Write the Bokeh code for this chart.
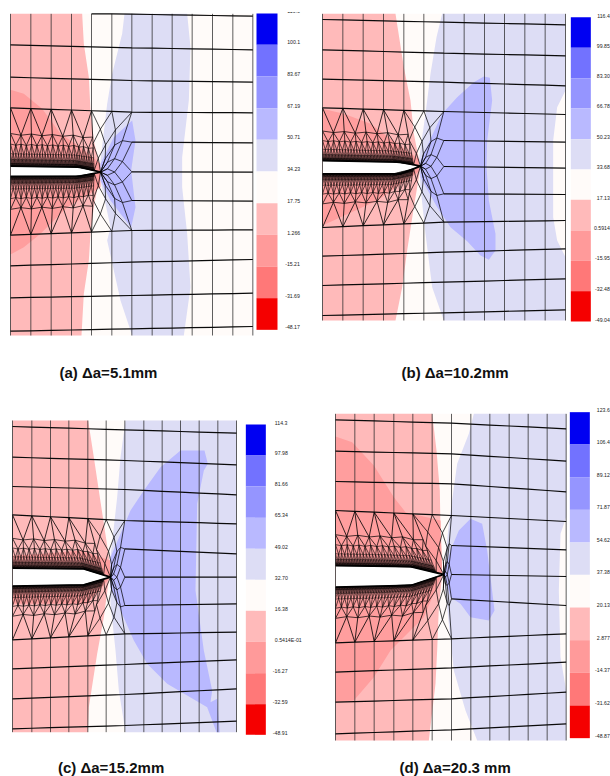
import numpy as np
from bokeh.plotting import figure
from bokeh.models import Range1d
from bokeh.core.properties import value
from bokeh.embed import file_html
from bokeh.resources import INLINE

BAND_COLORS = ["#0000F2", "#7272FF", "#9595FF", "#B9B9FF", "#DDDDF5",
               "#FFFBF9", "#FFBABA", "#FF9A9A", "#FF7878", "#F50000"]
PALE_PINK, DEEP_PINK, PALE_BLUE, MID_BLUE = "#FFBABA", "#FF9E9E", "#DDDDF5", "#B9B9FF"

CAPTIONS = ["(a) Δa=5.1mm", "(b) Δa=10.2mm", "(c) Δa=15.2mm", "(d) Δa=20.3 mm"]

# ---- panel (a), crop units
A_OFFSET = (0, 0)
A_BOX = (30, 40, 757, 1005)
A_VERT = [30, 91, 152, 213, 273, 334, 394, 455, 515, 575, 636, 697, 757]
A_LINES = [[37, 41, 47], [133, 142, 148], [230, 240, 245], [322, 335, 337],
           [704, 690, 688], [796, 785, 777], [892, 885, 878], [992, 985, 978]]
A_INNER = [[425, 427], [514, 515], [600, 602]]
A_CRACK = [497, 500, 528, 527, 240, 300, 515]
A_PINK = [(30,40),(245,40),(250,130),(265,230),(270,330),(280,420),(300,510),(280,620),(270,700),(265,780),(250,880),(243,1005),(30,1005)]
A_DEEP = [(30,268),(70,280),(125,325),(180,400),(240,440),(300,490),(300,560),(200,620),(120,700),(70,740),(30,762)]
A_BLUE = [(372,40),(560,40),(570,140),(565,300),(545,470),(545,560),(560,700),(570,860),(550,1005),(395,1005),(360,900),(320,720),(330,680),(300,540),(300,480),(320,310),(335,220),(365,100)]
A_MID = [(395,360),(405,420),(392,510),(405,620),(392,680),(360,640),(330,600),(300,540),(300,490),(340,410)]
A_BAR_X = (768, 831)
A_BAR_Y = [39, 133, 228, 323, 418, 513, 608, 703, 798, 893, 988]
A_LABELS = ["116.6", "100.1", "83.67", "67.19", "50.71", "34.23", "17.75", "1.266", "-15.21", "-31.69", "-48.17"]
A_LABEL_X = 860
A_LABEL_Y = [31, 124, 220, 315, 410, 505, 600, 697, 790, 886, 980]

# ---- panel (b)
B_OFFSET = (310, 0)
B_BOX = (36, 40, 765, 960)
B_VERT = [36, 97, 158, 219, 280, 340, 400, 461, 522, 582, 643, 704, 765]
B_LINES = [[57, 65, 73], [148, 158, 166], [236, 245, 256], [322, 333, 342],
           [681, 665, 660], [767, 755, 745], [855, 845, 835], [945, 937, 928]]
B_INNER = [[420, 425], [498, 503], [580, 582]]
B_CRACK = [480, 485, 520, 520, 270, 330, 497]
B_PINK = [(36,40),(255,40),(280,200),(300,300),(310,400),(330,500),(310,620),(290,750),(275,860),(255,960),(36,960)]
B_DEEP = [(36,325),(100,340),(180,370),(260,430),(330,480),(330,510),(200,600),(90,650),(36,675)]
B_BLUE = [(395,40),(765,40),(765,270),(740,320),(728,420),(728,650),(740,720),(765,770),(765,960),(400,960),(365,860),(345,700),(330,560),(325,480),(345,340),(360,220),(378,110)]
B_MID = [(520,228),(538,232),(545,300),(530,420),(528,500),(535,600),(555,700),(555,750),(535,778),(510,765),(470,722),(420,680),(380,620),(330,530),(330,480),(395,340),(440,290),(490,245)]
B_BAR_X = (781, 841)
B_BAR_Y = [50, 142, 233, 324, 416, 507, 598, 690, 781, 872, 963]
B_LABELS = ["116.4", "99.85", "83.30", "66.78", "50.23", "33.68", "17.13", "0.5914", "-15.95", "-32.48", "-49.04"]
B_LABEL_X = 898
B_LABEL_Y = [45, 135, 226, 317, 408, 500, 591, 682, 773, 865, 957]

# ---- panel (c)
C_OFFSET = (0, 390)
C_BOX = (36, 90, 708, 1025)
C_VERT = [36, 94, 150, 205, 262, 317, 373, 430, 485, 540, 596, 652, 708]
C_LINES = [[108, 118, 128], [200, 210, 223], [288, 297, 313], [373, 390, 400],
           [748, 730, 725], [835, 822, 808], [925, 912, 895], [1015, 1005, 992]]
C_INNER = [[475, 490], [560, 560], [645, 640]]
C_CRACK = [533, 535, 587, 583, 250, 330, 560]
C_PINK = [(36,90),(263,90),(280,200),(298,320),(310,400),(330,530),(310,680),(290,790),(265,950),(262,1025),(36,1025)]
C_DEEP = [(36,495),(130,490),(240,480),(330,510),(330,560),(260,640),(36,640)]
C_BLUE = [(375,90),(708,90),(708,1025),(375,1025),(355,900),(345,780),(330,640),(330,500),(350,320),(360,200)]
C_MID = [(540,180),(612,180),(622,220),(610,240),(590,340),(585,600),(610,780),(635,900),(630,935),(650,925),(658,1025),(648,1025),(620,950),(560,915),(500,880),(440,820),(400,750),(330,590),(330,500),(390,360),(430,300),(480,230)]
C_BAR_X = (736, 796)
C_BAR_Y = [102, 195, 288, 382, 475, 568, 661, 754, 848, 941, 1033]
C_LABELS = ["114.3", "97.98", "81.66", "65.34", "49.02", "32.70", "16.38", "0.5414E-01", "-16.27", "-32.59", "-48.91"]
C_LABEL_X = 823
C_LABEL_Y = [97, 188, 281, 374, 468, 561, 654, 747, 841, 934, 1027]

# ---- panel (d)
D_OFFSET = (310, 390)
D_BOX = (75, 70, 767, 1050)
D_VERT = [75, 133, 191, 250, 307, 365, 423, 481, 538, 596, 653, 710, 767]
D_LINES = [[88, 98, 115], [182, 190, 212], [273, 280, 304], [360, 375, 393],
           [757, 745, 730], [845, 832, 815], [935, 925, 905], [1030, 1018, 1000]]
D_INNER = [[465, 478], [552, 558], [625, 645]]
D_CRACK = [525, 528, 590, 585, 300, 400, 552]
D_PINK = [(75,70),(365,70),(378,180),(388,300),(390,420),(395,550),(385,650),(380,780),(375,880),(355,1050),(75,1050)]
D_DEEP = [(75,138),(125,155),(190,225),(250,320),(285,365),(390,390),(395,550),(340,680),(300,720),(240,780),(190,860),(130,930),(75,935)]
D_BLUE = [(490,70),(767,70),(767,380),(750,430),(745,600),(750,800),(767,900),(767,1050),(500,1050),(465,960),(430,840),(415,700),(400,550),(415,400),(440,220),(475,130)]
D_MID = [(480,385),(515,400),(530,480),(540,560),(552,660),(535,690),(480,680),(450,640),(420,620),(400,550),(420,480),(445,420)]
D_BAR_X = (778, 838)
D_BAR_Y = [65, 162, 260, 358, 456, 553, 651, 749, 847, 945, 1043]
D_LABELS = ["123.6", "106.4", "89.12", "71.87", "54.62", "37.38", "20.13", "2.877", "-14.37", "-31.62", "-48.87"]
D_LABEL_X = 898
D_LABEL_Y = [58, 153, 252, 349, 447, 545, 643, 741, 839, 937, 1037]

CAPTION_POS = [(59, 372), (401, 372), (57.5, 767), (399, 767)]

PANELS = [
    (A_OFFSET, A_BOX, A_VERT, A_LINES, A_INNER, A_CRACK, A_PINK, A_DEEP, A_BLUE, A_MID, A_BAR_X, A_BAR_Y, A_LABELS, A_LABEL_X, A_LABEL_Y, "left"),
    (B_OFFSET, B_BOX, B_VERT, B_LINES, B_INNER, B_CRACK, B_PINK, B_DEEP, B_BLUE, B_MID, B_BAR_X, B_BAR_Y, B_LABELS, B_LABEL_X, B_LABEL_Y, "right"),
    (C_OFFSET, C_BOX, C_VERT, C_LINES, C_INNER, C_CRACK, C_PINK, C_DEEP, C_BLUE, C_MID, C_BAR_X, C_BAR_Y, C_LABELS, C_LABEL_X, C_LABEL_Y, "left"),
    (D_OFFSET, D_BOX, D_VERT, D_LINES, D_INNER, D_CRACK, D_PINK, D_DEEP, D_BLUE, D_MID, D_BAR_X, D_BAR_Y, D_LABELS, D_LABEL_X, D_LABEL_Y, "right"),
]

p = figure(width=610, height=776, x_range=Range1d(0, 610), y_range=Range1d(776, 0),
           toolbar_location=None, output_backend="svg", min_border=0)
p.axis.visible = False
p.grid.visible = False
p.outline_line_color = None
p.background_fill_color = "white"

LEVEL_F = [0.0, 0.44, 0.62, 0.78, 0.88, 0.95, 1.0]
LEVEL_N = [1, 2, 4, 8, 16, 32, 32]
LEVEL_W = [0.9, 0.8, 0.7, 0.55, 0.5, 0.6, 0.8]
CRACK_FRAC = [0.0, 0.24, 0.48, 0.72, 0.93, 1.0, 1.0]
TIP_F = [0.0, 0.3, 0.55, 0.78, 1.0]


def to_px(off, xs, ys):
    return off[0] + np.asarray(xs, float) / 3, off[1] + np.asarray(ys, float) / 3


for off, box, vert, lines, inner, crack, pink, deep, blue, mid, bar_x, bar_y, labels, lab_x, lab_y, lab_align in PANELS:
    x0, y0, x1, y1 = box
    vert = np.array(vert, float)
    xR = vert[6]

    def line_y(row, x):
        return np.interp(x, [x0, xR, x1], row)

    bx, by = to_px(off, [x0, x1, x1, x0], [y0, y0, y1, y1])
    p.patch(bx, by, fill_color="#FFFBF9", line_color=None)
    for poly, col in ((pink, PALE_PINK), (deep, DEEP_PINK), (blue, PALE_BLUE), (mid, MID_BLUE)):
        a = np.array(poly, float)
        px, py = to_px(off, a[:, 0], a[:, 1])
        p.patch(px, py, fill_color=col, line_color=None)

    ytL, ytM, ybL, ybM, xM, xTip, yTip = crack
    kx, ky = to_px(off, [x0, xM, xTip, xM, x0], [ytL, ytM, yTip, ybM, ybL])
    p.patch(kx, ky, fill_color="white", line_color=None)
    p.line(kx, ky, line_color="black", line_width=1.8)

    top_row, bot_row = lines[3], lines[4]
    ox = np.array(list(vert[:7]) + [xR] * 3 + list(vert[:7][::-1]))
    oy = np.array(list(line_y(top_row, vert[:7])) + [r[0] for r in inner] + list(line_y(bot_row, vert[:7][::-1])))
    m = len(ox)
    idx = np.arange(m, dtype=float)
    tx = x0 + (xTip - x0) * np.array(CRACK_FRAC)
    ty = np.interp(tx, [x0, xM, xTip], [ytL, ytM, yTip])
    by2 = np.interp(tx, [x0, xM, xTip], [ybL, ybM, yTip])
    ccx = np.r_[tx, [xTip] * 3, tx[::-1]]
    ccy = np.r_[ty, [yTip] * 3, by2[::-1]]

    def at(u, f):
        return (np.interp(u, idx, ox) * (1 - f) + np.interp(u, idx, ccx) * f,
                np.interp(u, idx, oy) * (1 - f) + np.interp(u, idx, ccy) * f)

    # dense strips along both crack faces
    for ua, ub in ((0, 4), (12, 16)):
        levels = []
        for lev, (f, n) in enumerate(zip(LEVEL_F, LEVEL_N)):
            u = np.linspace(ua, ub, (ub - ua) * n + 1)
            ff = np.full_like(u, f)
            if 0 < lev < len(LEVEL_F) - 1:
                ff[1::2] += 0.035 / (1 + 0.4 * lev)
            levels.append(at(u, ff))
        for lev, (xs, ys) in enumerate(levels):
            segx, segy = [], []
            if lev > 0:
                lx, ly = to_px(off, xs, ys)
                segx.append(lx.tolist()); segy.append(ly.tolist())
            if lev + 1 < len(levels):
                xn, yn = levels[lev + 1]
                ratio = (len(xn) - 1) // (len(xs) - 1)
                for j in range(len(xs)):
                    targets = [2 * j - 1, 2 * j, 2 * j + 1] if ratio == 2 else [j, j + 1]
                    for t in targets:
                        if 0 <= t < len(xn):
                            sx, sy = to_px(off, [xs[j], xn[t]], [ys[j], yn[t]])
                            segx.append(sx.tolist()); segy.append(sy.tolist())
            p.multi_line(segx, segy, line_color="#000000", line_width=LEVEL_W[lev], line_alpha=0.9)

    # coarse diamond lattice round the crack tip
    segx, segy = [], []
    rows = []
    for k, f in enumerate(TIP_F):
        u = np.arange(4, 12.01, 1.0) if k % 2 == 0 else np.arange(4.5, 11.51, 1.0)
        rows.append(at(u, np.full_like(u, f)))
    for k in range(len(rows) - 1):
        xa, ya = rows[k]
        xb, yb = rows[k + 1]
        for j in range(len(xa)):
            targets = (j - 1, j) if k % 2 == 0 else (j, j + 1)
            for t in targets:
                if 0 <= t < len(xb):
                    sx, sy = to_px(off, [xa[j], xb[t]], [ya[j], yb[t]])
                    segx.append(sx.tolist()); segy.append(sy.tolist())
    p.multi_line(segx, segy, line_color="#000000", line_width=0.8, line_alpha=0.9)

    # structured mesh: verticals
    segx, segy = [], []
    vgaps_top = line_y(top_row, vert)
    vgaps_bot = line_y(bot_row, vert)
    for i, x in enumerate(vert):
        if 0 < i < 7:
            for a, b in ((y0, vgaps_top[i]), (vgaps_bot[i], y1)):
                sx, sy = to_px(off, [x, x], [a, b])
                segx.append(sx.tolist()); segy.append(sy.tolist())
        else:
            sx, sy = to_px(off, [x, x], [y0, y1])
            segx.append(sx.tolist()); segy.append(sy.tolist())
    p.multi_line(segx, segy, line_color="#2A2A2A", line_width=1.0, line_alpha=0.75)

    # structured mesh: horizontals
    dense_x = np.r_[x0, vert[1:-1], x1]
    segx, segy = [], []
    for row in lines:
        raw = line_y(row, dense_x)
        keep = raw >= y0 - 0.5
        sx, sy = to_px(off, dense_x[keep], np.clip(raw, y0, y1)[keep])
        segx.append(sx.tolist()); segy.append(sy.tolist())
    for row in inner:
        sx, sy = to_px(off, [xR, x1], row)
        segx.append(sx.tolist()); segy.append(sy.tolist())
    p.multi_line(segx, segy, line_color="#0A0A0A", line_width=1.2)

    # colour bar
    bl, _ = to_px(off, [bar_x[0]], [0])
    br, _ = to_px(off, [bar_x[1]], [0])
    _, edges = to_px(off, [0] * len(bar_y), bar_y)
    p.quad(left=[bl[0]] * 10, right=[br[0]] * 10, top=edges[:-1].tolist(), bottom=edges[1:].tolist(),
           fill_color=BAND_COLORS, line_color=None)

    shift = [6 if (s.startswith("-") and lab_align == "left") else 0 for s in labels]
    tx_, ty_ = to_px(off, [lab_x - d for d in shift], lab_y)
    p.text(tx_.tolist(), ty_.tolist(), text=labels, text_font=value("Liberation Sans"),
           text_font_size="5.2px", text_color="#222222", text_align=lab_align, text_baseline="middle")

# the top label of panel (a) is cut by the page's crop
p.quad(left=[280], right=[305], top=[0], bottom=[11.5], fill_color="white", line_color=None)

p.text([c[0] for c in CAPTION_POS], [c[1] for c in CAPTION_POS], text=CAPTIONS,
       text_font=value("Liberation Sans"), text_font_style="bold", text_font_size="15px",
       text_color="#111111", text_align="left", text_baseline="middle")

open("out.html", "w").write(file_html(p, INLINE))
